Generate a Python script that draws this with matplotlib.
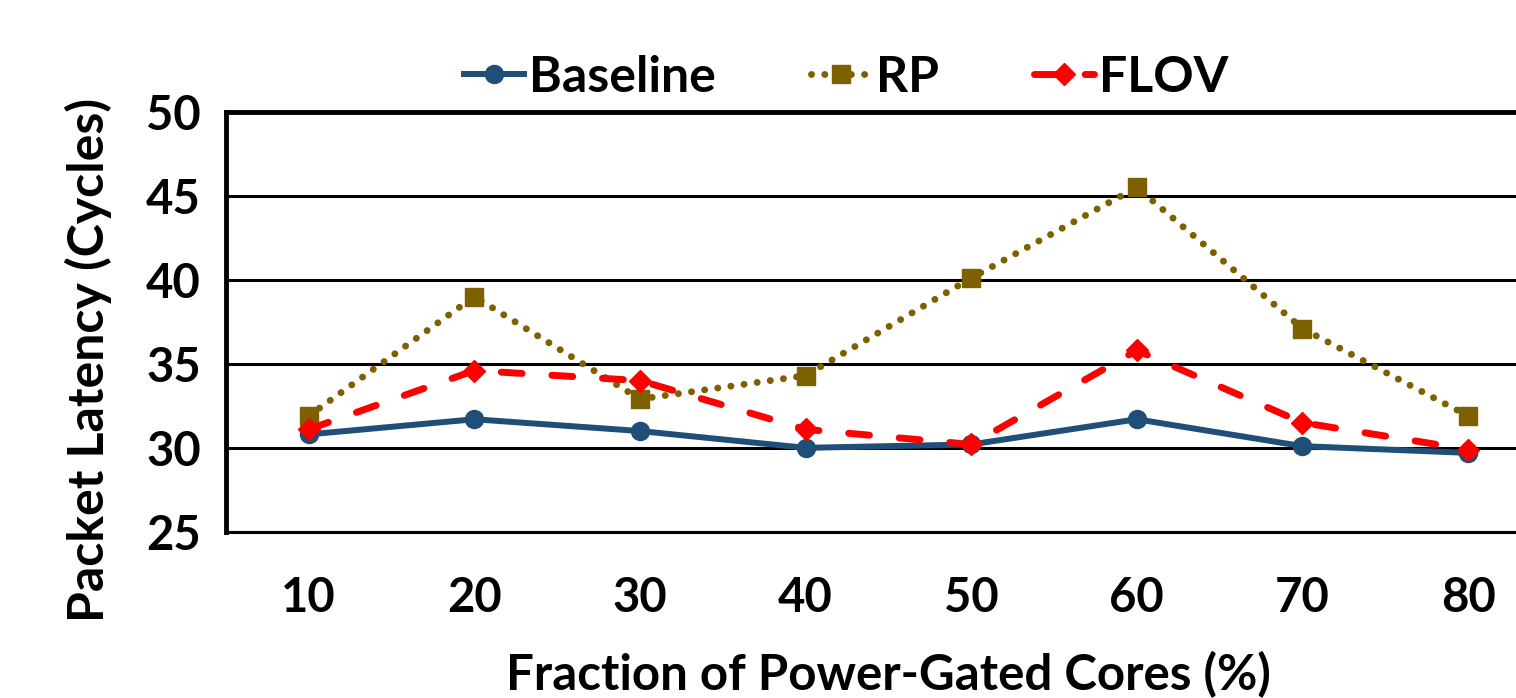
import matplotlib
matplotlib.use("Agg")
import matplotlib.pyplot as plt

# data
fractions = ["10", "20", "30", "40", "50", "60", "70", "80"]
baseline = [30.8, 31.7, 31.0, 30.0, 30.2, 31.7, 30.1, 29.7]
rp = [31.9, 39.0, 32.9, 34.3, 40.1, 45.5, 37.1, 31.9]
flov = [31.1, 34.6, 34.0, 31.1, 30.2, 35.8, 31.5, 29.9]
y_ticks = [25, 30, 35, 40, 45, 50]

plt.rcParams['font.family'] = ['Lato', 'DejaVu Sans']
plt.rcParams['font.weight'] = 'bold'

fig = plt.figure(figsize=(15.16, 6.98), dpi=100)
ax = fig.add_axes([0.149, 0.238, 0.874, 0.602])

x = list(range(len(fractions)))
ax.plot(x, baseline, color='#1F4E79', lw=4.3, marker='o', ms=13,
        label='Baseline', zorder=4)
ax.plot(x, rp, color='#7F6000', lw=5, ls=(0, (0.01, 1.9)), dash_capstyle='round',
        marker='s', ms=12.5, label='RP', zorder=3)
ax.plot(x, flov, color='#FF0000', lw=5, ls=(0, (3.0, 4.3)), dash_capstyle='round',
        marker='D', ms=11, label='FLOV', zorder=5)

ax.set_xlim(-0.5, len(fractions) - 0.5)
ax.set_ylim(25, 50)
ax.set_yticks(y_ticks)
ax.set_xticks(x)
ax.set_xticklabels(fractions)
ax.tick_params(axis='both', length=0, labelsize=34)
ax.tick_params(axis='x', pad=32)
ax.tick_params(axis='y', pad=18)
for lab in ax.get_xticklabels() + ax.get_yticklabels():
    lab.set_fontweight('bold')

ax.yaxis.grid(True, color='black', lw=2.2)
ax.set_axisbelow(True)
ax.spines['left'].set_linewidth(3.5)
ax.spines['top'].set_linewidth(3.5)
ax.spines['bottom'].set_linewidth(2.2)
ax.spines['right'].set_visible(False)

ax.set_ylabel('Packet Latency (Cycles)', fontsize=36, fontweight='bold')
ax.yaxis.set_label_coords(-0.086, 0.41)
ax.set_xlabel('Fraction of Power-Gated Cores (%)', fontsize=35.5, fontweight='bold', labelpad=22)

fig.legend(loc='center', bbox_to_anchor=(846 / 1516, 1 - 77 / 698), ncol=3,
           frameon=False, handlelength=1.2, columnspacing=1.9,
           handletextpad=0.1, prop={'weight': 'bold', 'size': 36})

fig.savefig('out.png', dpi=100)
